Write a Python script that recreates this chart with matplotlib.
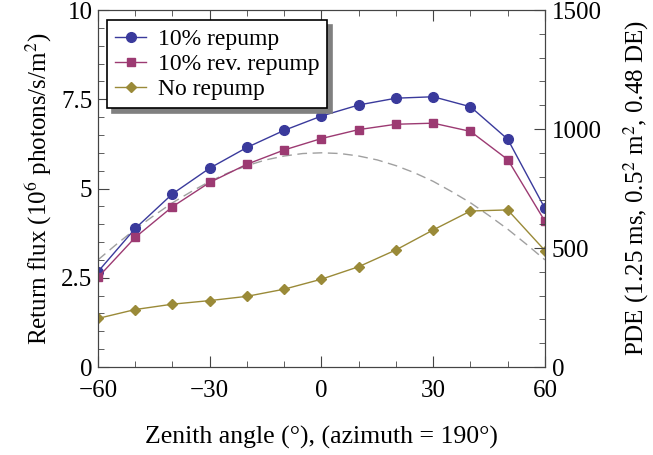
import matplotlib
matplotlib.use("Agg")
import matplotlib.pyplot as plt
from matplotlib.ticker import MultipleLocator, FuncFormatter

plt.rcParams['font.family'] = ['Liberation Serif', 'DejaVu Serif']
plt.rcParams['mathtext.fontset'] = 'stix'
plt.rcParams['font.size'] = 18

# Data
zenith = [-60, -50, -40, -30, -20, -10, 0, 10, 20, 30, 40, 50, 60]
repump = [2.67, 3.88, 4.85, 5.57, 6.15, 6.63, 7.03, 7.34, 7.53, 7.57, 7.29, 6.38, 4.44]
rev_repump = [2.51, 3.63, 4.49, 5.17, 5.68, 6.08, 6.40, 6.65, 6.80, 6.83, 6.60, 5.81, 4.08]
no_repump = [1.36, 1.61, 1.76, 1.86, 1.98, 2.18, 2.46, 2.81, 3.28, 3.84, 4.37, 4.40, 3.26]

# dashed reference curve (left axis units)
dash_x = [-60, -55, -50, -45, -40, -35, -30, -25, -20, -15, -10, -5, 0,
          5, 10, 15, 20, 25, 30, 35, 40, 45, 50, 55, 60]
dash_y = [3.00, 3.44, 3.86, 4.24, 4.60, 4.91, 5.20, 5.44, 5.64, 5.80, 5.91, 5.98, 6.00,
          5.98, 5.91, 5.80, 5.64, 5.44, 5.20, 4.91, 4.60, 4.24, 3.86, 3.44, 3.00]

c_blue = "#3a3a9c"
c_mag = "#9c3a72"
c_olive = "#9a8a38"
frame = "#444444"

fig = plt.figure(figsize=(6.53, 4.55), dpi=100)
ax = fig.add_axes([0.150, 0.1934, 0.6846, 0.7846])

ax.plot(dash_x, dash_y, color="#a0a0a0", lw=1.0, dashes=(7, 4))
ax.plot(zenith, repump, color=c_blue, marker="o", ms=7, lw=1.0, label="10% repump")
ax.plot(zenith, rev_repump, color=c_mag, marker="s", ms=6, lw=1.0, label="10% rev. repump")
ax.plot(zenith, no_repump, color=c_olive, marker="D", ms=5.5, lw=1.0, label="No repump")

ax.set_xlim(-60, 60)
ax.set_ylim(0, 10)
ax.xaxis.set_major_locator(MultipleLocator(30))
ax.xaxis.set_minor_locator(MultipleLocator(10))
ax.yaxis.set_major_locator(MultipleLocator(2.5))
ax.yaxis.set_minor_locator(MultipleLocator(0.5))
ax.xaxis.set_major_formatter(FuncFormatter(lambda v, p: ("%g" % v).replace("-", "\u2212")))
ax.yaxis.set_major_formatter(FuncFormatter(lambda v, p: "%g" % v))
ax.tick_params(which="both", direction="in", top=True, right=False, color=frame)
ax.tick_params(which="major", length=8)
ax.tick_params(which="minor", length=4)
ax.tick_params(axis="x", which="major", pad=9.5)
ax.tick_params(axis="y", which="major", pad=4)
for s in ax.spines.values():
    s.set_color(frame)

ax.set_xlabel("Zenith angle (\u00b0), (azimuth = 190\u00b0)", labelpad=17, fontsize=18.5)
ax.set_ylabel("Return flux (10$^6$ photons/s/m$^2$)", labelpad=5)

ax2 = ax.twinx()
ax2.set_ylim(0, 1500)
ax2.yaxis.set_major_locator(MultipleLocator(500))
ax2.yaxis.set_minor_locator(MultipleLocator(100))
ax2.tick_params(which="both", direction="in", color=frame)
ax2.tick_params(which="major", length=8, pad=5)
ax2.tick_params(which="minor", length=4)
for s in ax2.spines.values():
    s.set_color(frame)
ax2.set_ylabel("PDE (1.25 ms, 0.5$^2$ m$^2$, 0.48 DE)", labelpad=14)

leg = ax.legend(loc="upper left", bbox_to_anchor=(0.02, 0.972), fancybox=False,
                framealpha=1, edgecolor="black", borderaxespad=0, fontsize=17,
                handlelength=1.3, handletextpad=0.5, borderpad=0.35, labelspacing=0.15,
                shadow={"ox": 3.6, "oy": -3.6, "color": "#808080", "alpha": 1})
leg.get_frame().set_linewidth(1.2)

fig.savefig("out.png", dpi=100)
